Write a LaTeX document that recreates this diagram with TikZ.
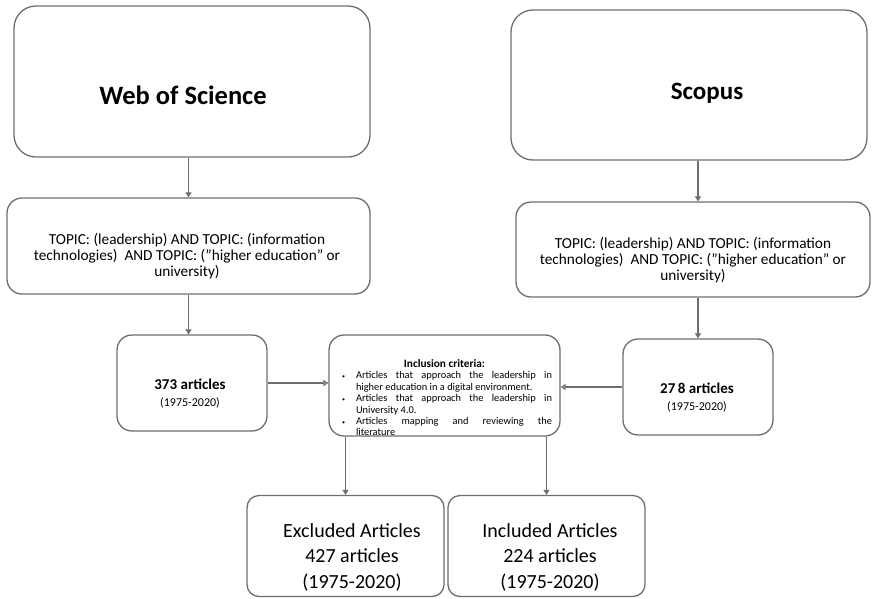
\documentclass[tikz,border=0pt]{standalone}
\usepackage{fontspec}
\setmainfont{Carlito}
\usetikzlibrary{arrows.meta}

\definecolor{lineGray}{HTML}{6E6E6E}

\tikzset{
  box/.style={draw=lineGray, line width=1.3pt, rounded corners=15pt, inner sep=0pt},
  bigbox/.style={box, rounded corners=22pt},
  arr/.style={draw=lineGray, line width=1.2pt, -{Triangle[width=6pt,length=5pt]}},
  harr/.style={draw=lineGray, line width=1.2pt, -{Triangle[open,width=6pt,length=5pt]}},
}

\newcommand{\critem}[1]{\par\noindent\hangindent=19pt\hangafter=1\makebox[19pt][l]{\hspace{5pt}{\fontsize{6}{6}\selectfont\textbullet}}#1\par}

\begin{document}
\begin{tikzpicture}[x=1pt,y=-1pt]
\useasboundingbox (0,0) rectangle (876,598);

% boxes
\node[bigbox, minimum width=356pt, minimum height=151pt] (wos) at (192,81.5) {};
\node[bigbox, minimum width=356pt, minimum height=150pt] (scopus) at (689,85) {};
\node[box, minimum width=363pt, minimum height=96pt] (topicL) at (188.5,246) {};
\node[box, minimum width=354pt, minimum height=95pt] (topicR) at (693,249.5) {};
\node[box, minimum width=150pt, minimum height=96pt] (n373) at (192,383) {};
\node[box, minimum width=150pt, minimum height=96pt] (n278) at (698,387) {};
\node[box, minimum width=231pt, minimum height=101pt] (crit) at (444.5,385.5) {};
\node[box, rounded corners=12pt, minimum width=197pt, minimum height=101pt] (excl) at (345.5,546) {};
\node[box, rounded corners=12pt, minimum width=197pt, minimum height=101pt] (incl) at (546.5,546) {};

% texts
\node[font=\fontsize{26.5}{30}\selectfont\bfseries] (wosText) at (183,95) {Web of Science};
\node[font=\fontsize{25}{30}\selectfont\bfseries] (scopusText) at (707,93) {Scopus};
\node[font=\fontsize{15.3}{16}\selectfont, align=center] (topicLText) at (187,256)
  {TOPIC: (leadership) AND TOPIC: (information\\technologies)\ \ AND TOPIC: ("higher education" or\\university)};
\node[font=\fontsize{15.3}{16}\selectfont, align=center] (topicRText) at (693,260)
  {TOPIC: (leadership) AND TOPIC: (information\\technologies)\ \ AND TOPIC: ("higher education" or\\university)};
\node[align=center] (n373Text) at (190,394)
  {\fontsize{15}{19}\selectfont\bfseries 373 articles\\[5pt]\fontsize{12}{14}\selectfont (1975-2020)};
\node[align=center] (n278Text) at (697,398)
  {\fontsize{15}{19}\selectfont\bfseries 27\,8 articles\\[5pt]\fontsize{12}{14}\selectfont (1975-2020)};
\node[align=center, font=\fontsize{20}{25.5}\selectfont] (exclText) at (352,557)
  {Excluded Articles\\427 articles\\(1975-2020)};
\node[align=center, font=\fontsize{20}{25.5}\selectfont] (inclText) at (550,557)
  {Included Articles\\224 articles\\(1975-2020)};
\node[font=\fontsize{10.4}{11.4}\selectfont, text width=215pt, align=justify, anchor=north, inner sep=0pt]
  (critText) at ([yshift=-25pt]crit.north)
  {{\centering\fontsize{11.3}{12}\selectfont\bfseries Inclusion criteria:\par}
   \critem{Articles that approach the leadership in\linebreak higher education in a digital environment.}
   \critem{Articles that approach the leadership in\linebreak University 4.0.}
   \critem{Articles mapping and reviewing the\linebreak literature}};

% connectors
\draw[arr] (topicL.north |- wos.south) -- (topicL.north);
\draw[arr] (topicL.south) -- (topicL.south |- n373.north);
\draw[arr] (n278.north |- scopus.south) -- (n278.north |- topicR.north);
\draw[arr] (n278.north |- topicR.south) -- (n278.north);
\draw[harr] (n373.east) -- (n373.east -| crit.west);
\draw[harr] (n278.west) -- (n278.west -| crit.east);
\draw[arr] (crit.south -| excl.north) -- (excl.north);
\draw[arr] (crit.south -| incl.north) -- (incl.north);
\end{tikzpicture}
\end{document}
